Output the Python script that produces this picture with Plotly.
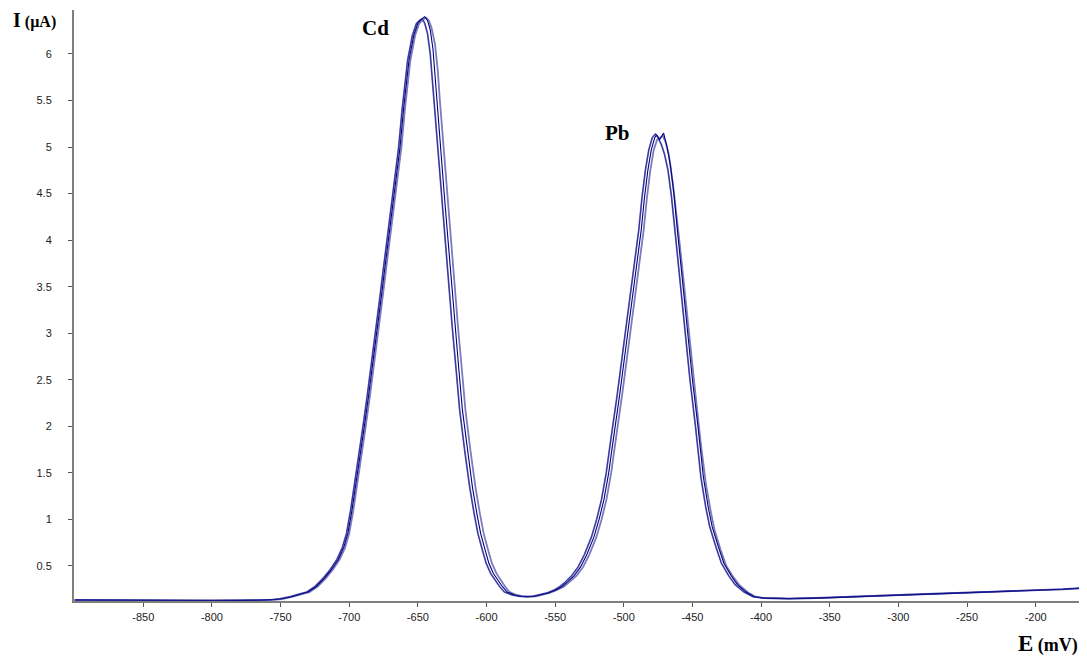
import plotly.graph_objects as go

# ---- data: (E in mV, I in µA) for three overlaid scans ----
scan_a = [(-900, 0.135), (-880, 0.133), (-860, 0.13), (-840, 0.13), (-820, 0.13), (-800, 0.13),
          (-780, 0.13), (-765, 0.132), (-757, 0.135), (-750, 0.145), (-742, 0.17), (-735, 0.2),
          (-730, 0.22), (-724, 0.28), (-718, 0.37), (-713, 0.46), (-708, 0.57), (-704, 0.7),
          (-701, 0.85), (-698, 1.1), (-695, 1.39), (-692, 1.7), (-689, 2.0), (-686, 2.32),
          (-683, 2.65), (-680, 3.0), (-677, 3.35), (-674.5, 3.65), (-671.5, 4.0), (-668.5, 4.4),
          (-665.5, 4.75), (-663, 5.0), (-660.5, 5.4), (-656.5, 5.93), (-653, 6.2), (-650, 6.33),
          (-647, 6.38), (-645, 6.4), (-643, 6.36), (-641, 6.26), (-639, 6.05), (-637.5, 5.75),
          (-636, 5.45), (-633.4, 4.97), (-631, 4.53), (-628.5, 4.08), (-625.6, 3.54), (-623, 3.07),
          (-620.1, 2.6), (-617.6, 2.18), (-614, 1.75), (-610.3, 1.35), (-607, 1.06), (-604.3, 0.85),
          (-601, 0.67), (-598.3, 0.53), (-595, 0.42), (-592, 0.35), (-588.5, 0.28), (-585, 0.22),
          (-580, 0.19), (-575, 0.175), (-570, 0.17), (-565, 0.175), (-560, 0.19), (-555, 0.21),
          (-550, 0.24), (-545, 0.28), (-541, 0.33), (-536, 0.4), (-531.5, 0.49), (-527, 0.62),
          (-521.8, 0.81), (-518, 1.0), (-514.5, 1.21), (-511, 1.5), (-508.4, 1.78), (-506, 2.02),
          (-503, 2.34), (-500, 2.68), (-497, 3.03), (-494, 3.38), (-491, 3.72), (-487.3, 4.11),
          (-485, 4.45), (-482.5, 4.75), (-480, 4.97), (-477.5, 5.1), (-476, 5.13), (-474, 5.08),
          (-471, 5.15), (-468.5, 5.0), (-466, 4.8), (-463.5, 4.5), (-461, 4.11), (-457.5, 3.6),
          (-453.8, 3.03), (-450, 2.5), (-446, 2.0), (-442, 1.45), (-438.5, 1.13), (-435.6, 0.92),
          (-431, 0.7), (-427.1, 0.53), (-422, 0.4), (-417.3, 0.3), (-411, 0.22), (-405, 0.17),
          (-398, 0.155), (-390, 0.15), (-380, 0.15), (-360, 0.155), (-340, 0.165), (-320, 0.175),
          (-300, 0.19), (-280, 0.2), (-260, 0.21), (-240, 0.215), (-220, 0.225), (-200, 0.235),
          (-180, 0.25), (-163, 0.265)]

scan_b = [(-900, 0.136), (-880, 0.133), (-860, 0.131), (-840, 0.13), (-820, 0.13), (-800, 0.13),
          (-780, 0.131), (-765, 0.133), (-757, 0.136), (-751, 0.146), (-743, 0.17), (-736, 0.2),
          (-731, 0.22), (-725, 0.28), (-719, 0.37), (-714, 0.46), (-709, 0.57), (-705, 0.7),
          (-702, 0.85), (-699, 1.1), (-696, 1.39), (-693, 1.7), (-690, 2.0), (-687, 2.32),
          (-684, 2.65), (-681, 3.0), (-678, 3.35), (-675.5, 3.65), (-672.5, 4.0), (-669.5, 4.4),
          (-666.5, 4.75), (-664, 5.0), (-661.5, 5.4), (-657.5, 5.93), (-654, 6.2), (-651, 6.33),
          (-648, 6.37), (-646.5, 6.37), (-645, 6.33), (-643, 6.22), (-641, 6.0), (-639.5, 5.72),
          (-638, 5.42), (-635.4, 4.97), (-633, 4.53), (-630.5, 4.08), (-627.6, 3.54), (-625, 3.07),
          (-622.1, 2.6), (-619.6, 2.18), (-616, 1.75), (-612.3, 1.35), (-609, 1.06), (-606.3, 0.85),
          (-603, 0.67), (-600.3, 0.53), (-597, 0.42), (-594, 0.35), (-590.5, 0.28), (-587, 0.22),
          (-581.5, 0.19), (-576, 0.175), (-571, 0.17), (-566, 0.175), (-561, 0.19), (-556, 0.21),
          (-551, 0.24), (-546.5, 0.28), (-542.5, 0.33), (-537.8, 0.4), (-533.3, 0.49), (-528.8, 0.62),
          (-523.6, 0.81), (-519.8, 1.0), (-516.3, 1.21), (-512.8, 1.5), (-510.2, 1.78), (-507.8, 2.02),
          (-504.8, 2.34), (-501.8, 2.68), (-498.8, 3.03), (-495.8, 3.38), (-492.8, 3.72), (-489.1, 4.11),
          (-486.8, 4.45), (-484.3, 4.75), (-481.8, 4.97), (-479.3, 5.1), (-477, 5.14), (-475, 5.1),
          (-472.5, 5.02), (-470.3, 4.92), (-467.8, 4.75), (-465.3, 4.47), (-462.8, 4.11), (-459.3, 3.6),
          (-455.6, 3.03), (-451.8, 2.5), (-447.8, 2.0), (-443.8, 1.45), (-440.3, 1.13), (-437.4, 0.92),
          (-432.8, 0.7), (-428.9, 0.53), (-423.8, 0.4), (-419, 0.3), (-412.5, 0.22), (-406, 0.17),
          (-398, 0.156), (-390, 0.151), (-380, 0.15), (-360, 0.156), (-340, 0.166), (-320, 0.176),
          (-300, 0.19), (-280, 0.201), (-260, 0.211), (-240, 0.216), (-220, 0.226), (-200, 0.236),
          (-180, 0.251), (-163, 0.266)]

scan_c = [(-900, 0.134), (-880, 0.132), (-860, 0.13), (-840, 0.129), (-820, 0.13), (-800, 0.129),
          (-780, 0.13), (-765, 0.131), (-757, 0.134), (-749, 0.145), (-741, 0.17), (-734, 0.2),
          (-729, 0.22), (-723, 0.28), (-717, 0.37), (-712, 0.46), (-707, 0.57), (-703, 0.7),
          (-700, 0.85), (-697, 1.1), (-694, 1.39), (-691, 1.7), (-688, 2.0), (-685, 2.32),
          (-682, 2.65), (-679, 3.0), (-676, 3.35), (-673.5, 3.65), (-670.5, 4.0), (-667.5, 4.4),
          (-664.5, 4.75), (-662, 5.0), (-659.5, 5.4), (-655.5, 5.93), (-652, 6.2), (-649, 6.33),
          (-646, 6.37), (-644, 6.39), (-642, 6.36), (-640, 6.28), (-637.5, 6.1), (-635.5, 5.82),
          (-634, 5.5), (-631.2, 4.97), (-628.8, 4.53), (-626.3, 4.08), (-623.4, 3.54), (-620.8, 3.07),
          (-617.9, 2.6), (-615.4, 2.18), (-611.8, 1.75), (-608.1, 1.35), (-604.8, 1.06), (-602.1, 0.85),
          (-598.8, 0.67), (-596.1, 0.53), (-592.8, 0.42), (-589.8, 0.35), (-586.5, 0.28), (-583.2, 0.22),
          (-578.5, 0.19), (-574, 0.175), (-569, 0.17), (-564, 0.175), (-559, 0.19), (-554, 0.21),
          (-549, 0.24), (-543.5, 0.28), (-539.5, 0.33), (-534.2, 0.4), (-529.7, 0.49), (-525.2, 0.62),
          (-520, 0.81), (-516.2, 1.0), (-512.7, 1.21), (-509.2, 1.5), (-506.6, 1.78), (-504.2, 2.02),
          (-501.2, 2.34), (-498.2, 2.68), (-495.2, 3.03), (-492.2, 3.38), (-489.2, 3.72), (-485.5, 4.11),
          (-483.2, 4.45), (-480.7, 4.75), (-478.2, 4.97), (-475.7, 5.08), (-473.5, 5.1), (-471.5, 5.12),
          (-469.5, 5.05), (-467.2, 4.92), (-464.2, 4.6), (-461.7, 4.3), (-459.2, 3.95), (-455.7, 3.46),
          (-452, 2.9), (-448.2, 2.4), (-444.2, 1.85), (-440.2, 1.38), (-436.7, 1.09), (-433.8, 0.88),
          (-429.2, 0.66), (-425.3, 0.5), (-420.2, 0.38), (-415.5, 0.29), (-409.5, 0.215), (-404, 0.17),
          (-398, 0.155), (-390, 0.149), (-380, 0.149), (-360, 0.155), (-340, 0.164), (-320, 0.174),
          (-300, 0.189), (-280, 0.199), (-260, 0.209), (-240, 0.214), (-220, 0.224), (-200, 0.234),
          (-180, 0.249), (-163, 0.264)]

x_ticks = [-850, -800, -750, -700, -650, -600, -550, -500, -450, -400, -350, -300, -250, -200]
x_tick_text = ["-850", "-800", "-750", "-700", "-650", "-600", "-550", "-500", "-450", "-400",
               "-350", "-300", "-250", "-200"]
y_ticks = [0.5, 1, 1.5, 2, 2.5, 3, 3.5, 4, 4.5, 5, 5.5, 6]
peak_names = ["Cd", "Pb"]
peak_label_e = [-680.8, -504.5]
peak_label_i = [6.28, 5.15]

fig = go.Figure()
styles = [(scan_b, "#7b7bbd", 1.8), (scan_c, "#7b7bbd", 1.8), (scan_a, "#000080", 1.1),
          (scan_b, "#1a1a90", 0.8)]
for scan, col, w in styles:
    ex = [p[0] for p in scan]
    iy = [p[1] for p in scan]
    fig.add_trace(go.Scatter(x=ex, y=iy, mode="lines", line=dict(color=col, width=w),
                             showlegend=False, hoverinfo="skip"))

for name, ex, iy in zip(peak_names, peak_label_e, peak_label_i):
    fig.add_annotation(x=ex, y=iy, text="<b>%s</b>" % name, showarrow=False,
                       font=dict(family="Liberation Serif", size=21, color="black"))

fig.add_annotation(xref="paper", yref="paper", x=-0.0625, y=0.983, xanchor="left", yanchor="middle",
                   text="<b><span style='font-size:20px'>I</span> (µA)</b>", showarrow=False,
                   font=dict(family="Liberation Serif", size=16, color="black"))
fig.add_annotation(xref="paper", yref="paper", x=0.993, y=-0.0964, xanchor="right", yanchor="bottom",
                   text="<b><span style='font-size:23px'>E</span> (mV)</b>", showarrow=False,
                   font=dict(family="Liberation Serif", size=18, color="black"))

axis_common = dict(showline=True, linecolor="#7f7f7f", linewidth=2, ticks="outside",
                   tickcolor="#555555", ticklen=4, tickwidth=1, showgrid=False, zeroline=False,
                   tickfont=dict(family="Liberation Sans", size=11, color="#222222"))
fig.update_xaxes(range=[-900.5, -162.6], tickvals=x_ticks, ticktext=x_tick_text,
                 ticklabelstandoff=1, **axis_common)
fig.update_yaxes(range=[0.124, 6.472], tickvals=y_ticks, ticklabelstandoff=14, **axis_common)

# the page body has an 8px margin, so the figure is 8px smaller than the window
fig.update_layout(width=1079, height=650, margin=dict(l=66, r=0, t=2, b=57),
                  plot_bgcolor="white", paper_bgcolor="white")

fig.write_html("out.html")
